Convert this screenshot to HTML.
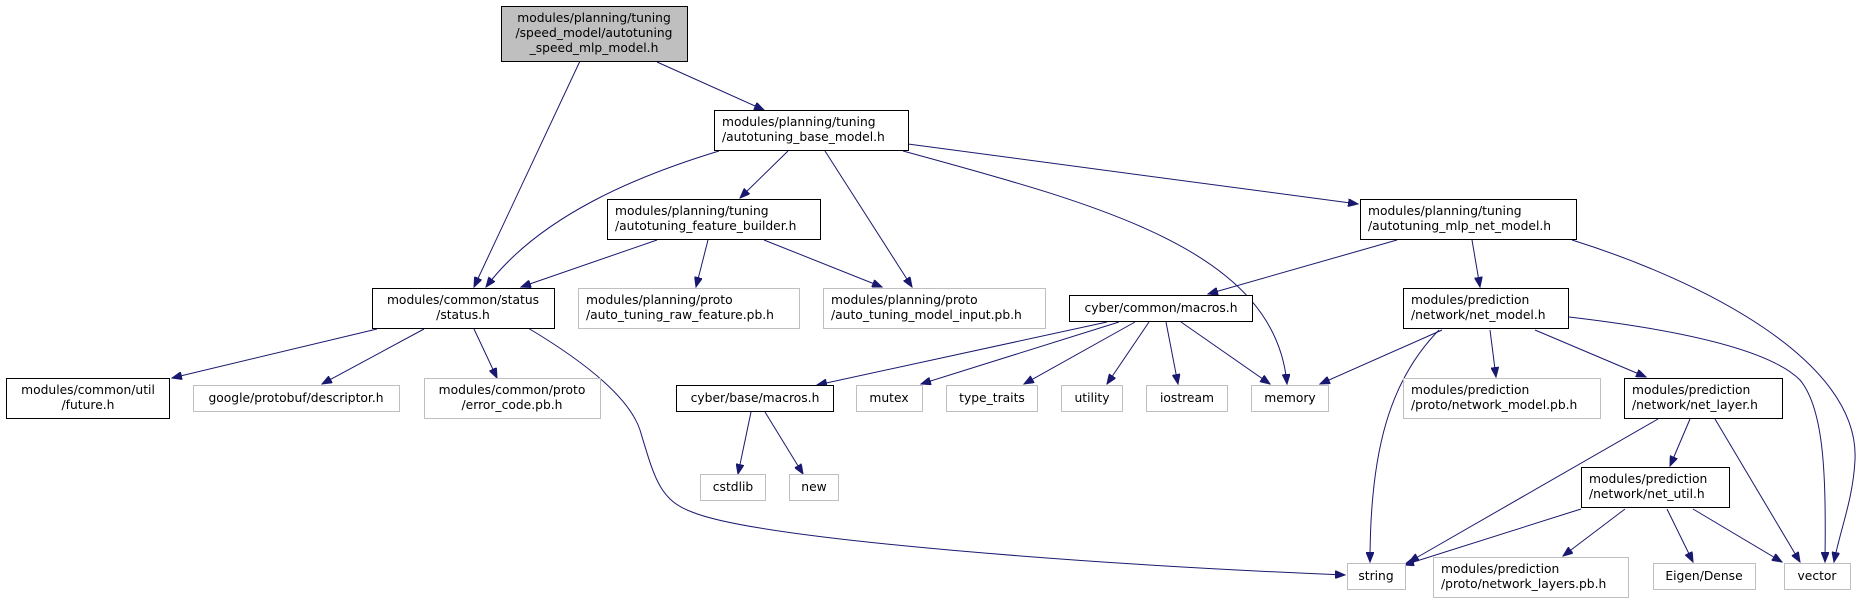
<!DOCTYPE html>
<html><head><meta charset="utf-8"><style>
html,body{margin:0;padding:0;background:#fff;}
svg{display:block;}
text{font-family:"DejaVu Sans","Liberation Sans",sans-serif;font-size:12.3px;fill:#000;}
.b{fill:#fff;stroke:#000;stroke-width:1;}
.g{fill:#fff;stroke:#bfbfbf;stroke-width:1;}
.e{fill:none;stroke:#191970;stroke-width:1;marker-end:url(#a);}
</style></head><body>
<svg width="1857" height="603" viewBox="0 0 1857 603" xmlns="http://www.w3.org/2000/svg">
<defs><marker id="a" markerWidth="11" markerHeight="8" refX="10" refY="4" orient="auto" markerUnits="userSpaceOnUse"><path d="M0,0 L10,4 L0,8 Z" fill="#191970" stroke="#191970"/></marker></defs>

<!-- edges -->
<path class="e" d="M580,61 L474,287"/>
<path class="e" d="M657,62 L764,110"/>
<path class="e" d="M719,151 C640,175 540,215 486,287"/>
<path class="e" d="M788,151 L740,198"/>
<path class="e" d="M825,151 L912,287"/>
<path class="e" d="M903,151 C1100,205 1275,250 1287,384"/>
<path class="e" d="M908,144 L1358,204"/>
<path class="e" d="M657,240 L521,287"/>
<path class="e" d="M708,240 L696,287"/>
<path class="e" d="M764,240 L882,287"/>
<path class="e" d="M1397,240 L1208,294"/>
<path class="e" d="M1472,240 L1480,287"/>
<path class="e" d="M1572,240 C1700,280 1860,360 1855,460 C1853,500 1840,530 1834,562"/>
<path class="e" d="M377,329 L172,378"/>
<path class="e" d="M424,329 L322,384"/>
<path class="e" d="M474,329 L497,378"/>
<path class="e" d="M528,328 C590,365 630,400 640,430 C655,480 660,500 692,512 C760,540 1100,565 1345,575"/>
<path class="e" d="M1107,322 L817,385"/>
<path class="e" d="M1119,322 L921,384"/>
<path class="e" d="M1135,322 L1024,384"/>
<path class="e" d="M1149,322 L1107,384"/>
<path class="e" d="M1166,322 L1178,384"/>
<path class="e" d="M1181,322 L1270,384"/>
<path class="e" d="M751,412 L738,474"/>
<path class="e" d="M765,412 L803,474"/>
<path class="e" d="M1442,330 L1320,384"/>
<path class="e" d="M1439,330 C1390,380 1370,450 1370,562"/>
<path class="e" d="M1490,330 L1496,377"/>
<path class="e" d="M1535,330 L1646,377"/>
<path class="e" d="M1569,317 C1680,330 1770,350 1800,380 C1825,410 1826,480 1825,562"/>
<path class="e" d="M1658,419 L1409,562"/>
<path class="e" d="M1690,419 L1670,466"/>
<path class="e" d="M1715,419 L1800,562"/>
<path class="e" d="M1581,509 L1404,565"/>
<path class="e" d="M1625,509 L1563,556"/>
<path class="e" d="M1667,509 L1693,562"/>
<path class="e" d="M1693,509 L1782,562"/>

<!-- nodes -->
<rect x="501.5" y="6.5" width="186" height="55" fill="#bfbfbf" stroke="#000"/>
<text x="594" y="22" text-anchor="middle">modules/planning/tuning</text>
<text x="594" y="37" text-anchor="middle">/speed_model/autotuning</text>
<text x="594" y="52" text-anchor="middle">_speed_mlp_model.h</text>

<rect class="b" x="714.5" y="110.5" width="194" height="40"/>
<text x="722" y="126">modules/planning/tuning</text><text x="722" y="141">/autotuning_base_model.h</text>

<rect class="b" x="607.5" y="199.5" width="213" height="40"/>
<text x="615" y="215">modules/planning/tuning</text><text x="615" y="230">/autotuning_feature_builder.h</text>

<rect class="b" x="1360.5" y="199.5" width="216" height="40"/>
<text x="1368" y="215">modules/planning/tuning</text><text x="1368" y="230">/autotuning_mlp_net_model.h</text>

<rect class="b" x="372.5" y="288.5" width="182" height="40"/>
<text x="463" y="304" text-anchor="middle">modules/common/status</text><text x="463" y="319" text-anchor="middle">/status.h</text>

<rect class="g" x="578.5" y="288.5" width="221" height="40"/>
<text x="586" y="304">modules/planning/proto</text><text x="586" y="319">/auto_tuning_raw_feature.pb.h</text>

<rect class="g" x="823.5" y="288.5" width="222" height="40"/>
<text x="831" y="304">modules/planning/proto</text><text x="831" y="319">/auto_tuning_model_input.pb.h</text>

<rect class="b" x="1069.5" y="295.5" width="183" height="26"/>
<text x="1161" y="312" text-anchor="middle">cyber/common/macros.h</text>

<rect class="b" x="1403.5" y="288.5" width="165" height="40"/>
<text x="1411" y="304">modules/prediction</text><text x="1411" y="319">/network/net_model.h</text>

<rect class="b" x="6.5" y="378.5" width="163" height="40"/>
<text x="88" y="394" text-anchor="middle">modules/common/util</text><text x="88" y="409" text-anchor="middle">/future.h</text>

<rect class="g" x="193.5" y="385.5" width="206" height="26"/>
<text x="296" y="402" text-anchor="middle">google/protobuf/descriptor.h</text>

<rect class="g" x="424.5" y="378.5" width="176" height="40"/>
<text x="512" y="394" text-anchor="middle">modules/common/proto</text><text x="512" y="409" text-anchor="middle">/error_code.pb.h</text>

<rect class="b" x="676.5" y="385.5" width="157" height="26"/>
<text x="755" y="402" text-anchor="middle">cyber/base/macros.h</text>

<rect class="g" x="856.5" y="385.5" width="66" height="26"/><text x="889" y="402" text-anchor="middle">mutex</text>
<rect class="g" x="946.5" y="385.5" width="91" height="26"/><text x="992" y="402" text-anchor="middle">type_traits</text>
<rect class="g" x="1061.5" y="385.5" width="61" height="26"/><text x="1092" y="402" text-anchor="middle">utility</text>
<rect class="g" x="1146.5" y="385.5" width="81" height="26"/><text x="1187" y="402" text-anchor="middle">iostream</text>
<rect class="g" x="1251.5" y="385.5" width="77" height="26"/><text x="1290" y="402" text-anchor="middle">memory</text>

<rect class="g" x="1403.5" y="378.5" width="197" height="40"/>
<text x="1411" y="394">modules/prediction</text><text x="1411" y="409">/proto/network_model.pb.h</text>

<rect class="b" x="1624.5" y="378.5" width="158" height="40"/>
<text x="1632" y="394">modules/prediction</text><text x="1632" y="409">/network/net_layer.h</text>

<rect class="g" x="700.5" y="474.5" width="65" height="26"/><text x="733" y="491" text-anchor="middle">cstdlib</text>
<rect class="g" x="789.5" y="474.5" width="49" height="26"/><text x="814" y="491" text-anchor="middle">new</text>

<rect class="b" x="1581.5" y="467.5" width="148" height="40"/>
<text x="1589" y="483">modules/prediction</text><text x="1589" y="498">/network/net_util.h</text>

<rect class="g" x="1347.5" y="563.5" width="58" height="26"/><text x="1376" y="580" text-anchor="middle">string</text>

<rect class="g" x="1433.5" y="557.5" width="195" height="40"/>
<text x="1441" y="573">modules/prediction</text><text x="1441" y="588">/proto/network_layers.pb.h</text>

<rect class="g" x="1653.5" y="563.5" width="102" height="26"/><text x="1704" y="580" text-anchor="middle">Eigen/Dense</text>
<rect class="g" x="1784.5" y="563.5" width="66" height="26"/><text x="1817" y="580" text-anchor="middle">vector</text>
</svg>
</body></html>
